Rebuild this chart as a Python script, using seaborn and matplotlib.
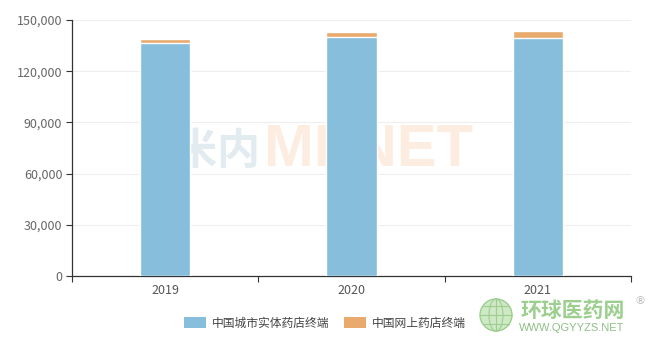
import matplotlib
matplotlib.use("Agg")
import matplotlib.pyplot as plt
from matplotlib.patches import Circle, Ellipse
import seaborn as sns
import pandas as pd
import numpy as np

years = ["2019", "2020", "2021"]
city_store = [136700, 140200, 139600]
online_store = [2000, 2900, 4100]
series_names = ["中国城市实体药店终端", "中国网上药店终端"]
y_ticks = [0, 30000, 60000, 90000, 120000, 150000]

blue = "#86bedc"
orange = "#e8aa6d"

sns.set_theme(style="white")
plt.rcParams['font.family'] = ['Noto Sans CJK SC', 'DejaVu Sans']

fig = plt.figure(figsize=(6.51, 3.50), dpi=100)

# background layer: watermark + logo
bg = fig.add_axes([0, 0, 1, 1], zorder=-5)
bg.set_xlim(0, 651)
bg.set_ylim(350, 0)
bg.axis("off")
bg.text(217, 151, "米内", ha="center", va="center",
        fontsize=31, fontweight="bold", color="#e1ebf0")
bg.text(369, 151, "MENET", ha="center", va="center",
        fontsize=43, fontweight="bold", color="#fcede0", family="Liberation Sans")

green = "#9ccf8e"
bg.add_patch(Circle((496, 315), 16, facecolor="#cfe8c6", edgecolor=green, linewidth=1))
for dy in (-9, 0, 9):
    half = np.sqrt(max(16**2 - dy**2, 0))
    bg.plot([496 - half, 496 + half], [315 + dy, 315 + dy], color=green, lw=0.8)
bg.add_patch(Ellipse((496, 315), 14, 32, facecolor="none", edgecolor=green, lw=0.8))
bg.plot([496, 496], [299, 331], color=green, lw=0.8)
bg.text(573, 310, "环球医药网", ha="center", va="center", fontsize=15,
        fontweight="bold", color=green)
bg.text(572, 328, "WWW.QGYYZS.NET", ha="center", va="center", fontsize=8,
        color="#8fbf86", family="Liberation Sans")
bg.text(640, 301, "®", ha="center", va="center", fontsize=8,
        color="#bbbbbb", family="DejaVu Sans")

ax = fig.add_axes([72/651, 74/350, (631-72)/651, (276-20)/350], zorder=1)
ax.patch.set_alpha(0)

totals = [a + b for a, b in zip(city_store, online_store)]
df_total = pd.DataFrame({"year": years, "value": totals})
df_city = pd.DataFrame({"year": years, "value": city_store})

sns.barplot(data=df_total, x="year", y="value", color=orange, saturation=1,
            width=0.27, ax=ax, zorder=3)
sns.barplot(data=df_city, x="year", y="value", color=blue, saturation=1,
            width=0.27, ax=ax, zorder=3)

ax.set_xlim(-0.5, 2.5)
ax.set_ylim(0, 150000)
ax.set_yticks(y_ticks)
ax.set_yticklabels([f"{v:,}" for v in y_ticks])
ax.set_xlabel("")
ax.set_ylabel("")
ax.grid(axis="y", color="#eeeeee", linewidth=0.8, zorder=0)
ax.set_axisbelow(True)

for s in ["top", "right"]:
    ax.spines[s].set_visible(False)
for s in ["left", "bottom"]:
    ax.spines[s].set_color("#333333")
    ax.spines[s].set_linewidth(0.9)

ax.tick_params(axis="y", length=4, width=0.8, color="#333333", labelcolor="#666666",
               labelsize=9, pad=3, left=True)
ax.tick_params(axis="x", which="major", length=0, labelcolor="#555555", labelsize=9, pad=6)
ax.set_xticks([-0.5, 0.5, 1.5, 2.5], minor=True)
ax.tick_params(axis="x", which="minor", length=4, width=0.8, color="#333333", bottom=True)

handles = [plt.Rectangle((0, 0), 1, 1, facecolor=blue, edgecolor="none"),
           plt.Rectangle((0, 0), 1, 1, facecolor=orange, edgecolor="none")]
fig.legend(handles, series_names, loc="center", bbox_to_anchor=(325/651, 1 - 323/350),
           ncol=2, frameon=False, fontsize=8.5, handlelength=1.9, handleheight=1.0,
           columnspacing=1.2, handletextpad=0.5, labelcolor="#444444")

fig.savefig("out.png", dpi=100)
